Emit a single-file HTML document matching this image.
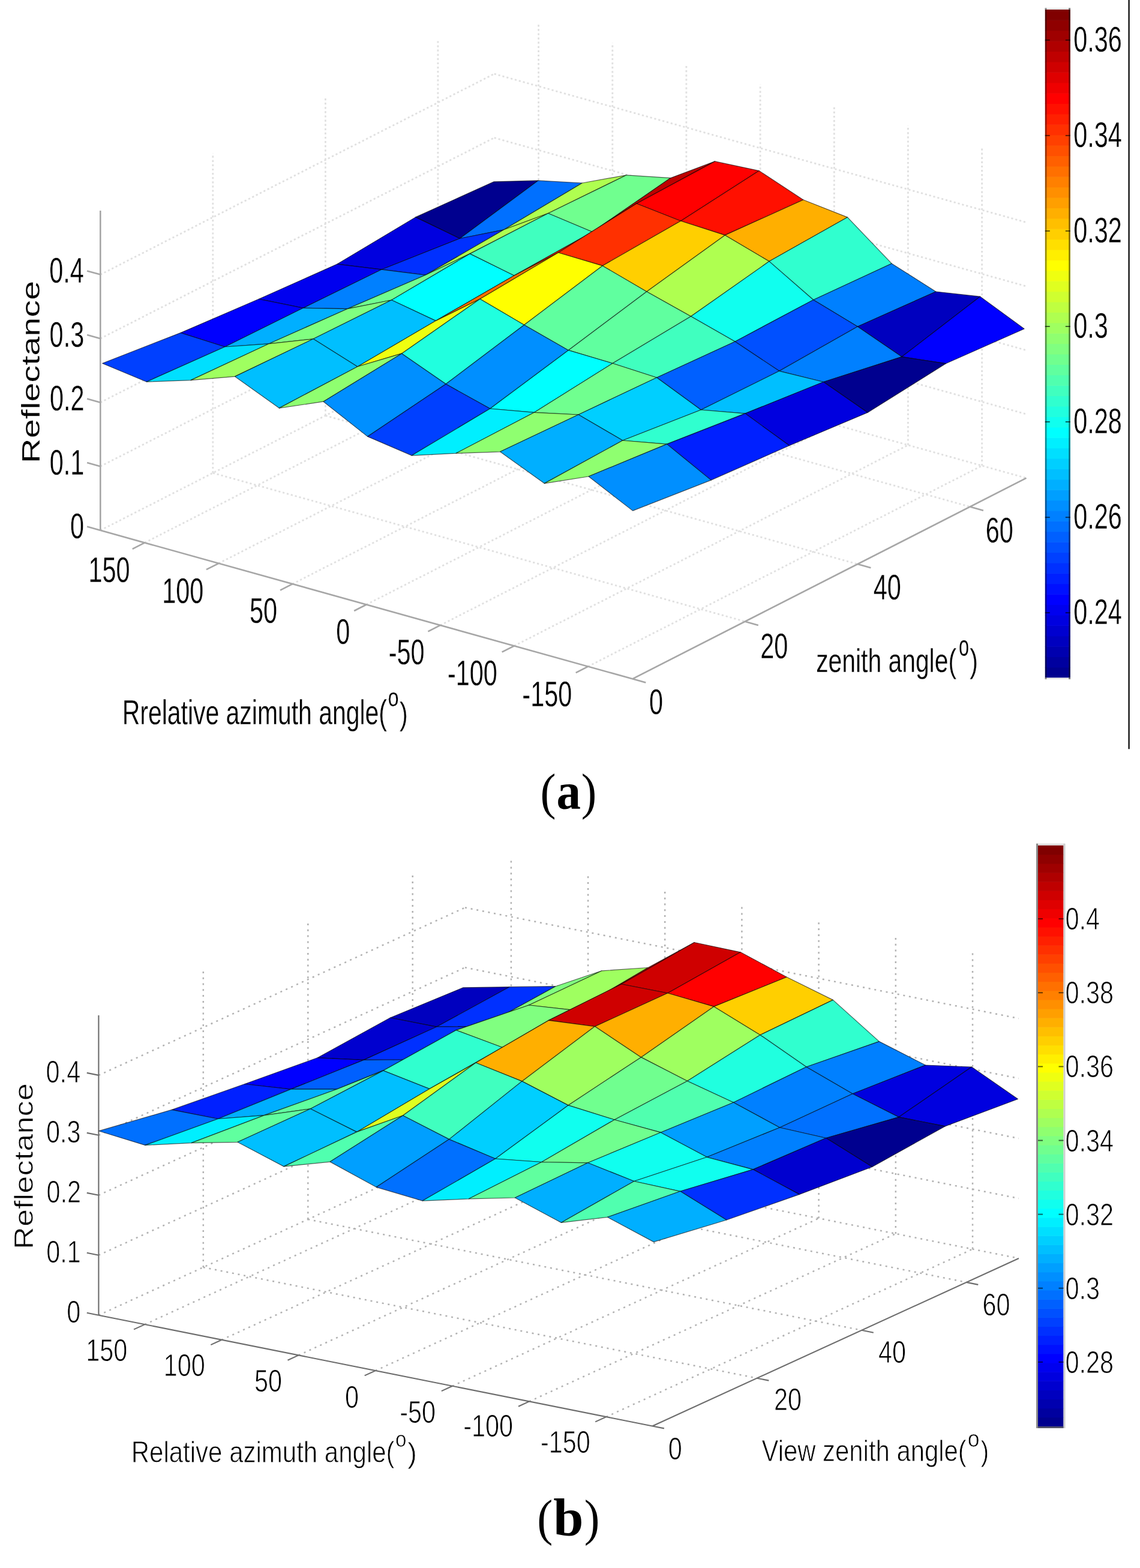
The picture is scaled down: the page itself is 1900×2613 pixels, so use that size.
<!DOCTYPE html>
<html><head><meta charset="utf-8"><title>Reflectance surfaces</title>
<style>html,body{margin:0;padding:0;background:#fff;}svg{display:block;}</style></head>
<body><svg width="1900" height="2613" viewBox="0 0 1900 2613">
<rect width="1900" height="2613" fill="#fff"/>
<g fill="none"><line x1="241.2" y1="904.4" x2="897.6" y2="569.8" stroke="#e0e0e0" stroke-width="2.80" stroke-dasharray="3.2 3.9"/><line x1="364.4" y1="938.8" x2="1020.8" y2="604.2" stroke="#e0e0e0" stroke-width="2.80" stroke-dasharray="3.2 3.9"/><line x1="487.5" y1="973.1" x2="1143.9" y2="638.6" stroke="#e0e0e0" stroke-width="2.80" stroke-dasharray="3.2 3.9"/><line x1="610.7" y1="1007.5" x2="1267.1" y2="673.0" stroke="#e0e0e0" stroke-width="2.80" stroke-dasharray="3.2 3.9"/><line x1="733.9" y1="1041.9" x2="1390.3" y2="707.3" stroke="#e0e0e0" stroke-width="2.80" stroke-dasharray="3.2 3.9"/><line x1="857.0" y1="1076.3" x2="1513.4" y2="741.7" stroke="#e0e0e0" stroke-width="2.80" stroke-dasharray="3.2 3.9"/><line x1="980.2" y1="1110.6" x2="1636.6" y2="776.1" stroke="#e0e0e0" stroke-width="2.80" stroke-dasharray="3.2 3.9"/><line x1="354.8" y1="788.2" x2="1241.7" y2="1035.7" stroke="#e0e0e0" stroke-width="2.80" stroke-dasharray="3.2 3.9"/><line x1="542.4" y1="692.6" x2="1429.2" y2="940.1" stroke="#e0e0e0" stroke-width="2.80" stroke-dasharray="3.2 3.9"/><line x1="729.9" y1="597.0" x2="1616.7" y2="844.5" stroke="#e0e0e0" stroke-width="2.80" stroke-dasharray="3.2 3.9"/><line x1="354.8" y1="788.2" x2="354.8" y2="255.5" stroke="#e0e0e0" stroke-width="2.80" stroke-dasharray="3.2 3.9"/><line x1="542.4" y1="692.6" x2="542.4" y2="159.9" stroke="#e0e0e0" stroke-width="2.80" stroke-dasharray="3.2 3.9"/><line x1="729.9" y1="597.0" x2="729.9" y2="64.4" stroke="#e0e0e0" stroke-width="2.80" stroke-dasharray="3.2 3.9"/><line x1="167.3" y1="777.2" x2="823.7" y2="442.7" stroke="#e0e0e0" stroke-width="2.80" stroke-dasharray="3.2 3.9"/><line x1="167.3" y1="670.7" x2="823.7" y2="336.2" stroke="#e0e0e0" stroke-width="2.80" stroke-dasharray="3.2 3.9"/><line x1="167.3" y1="564.2" x2="823.7" y2="229.6" stroke="#e0e0e0" stroke-width="2.80" stroke-dasharray="3.2 3.9"/><line x1="167.3" y1="457.6" x2="823.7" y2="123.1" stroke="#e0e0e0" stroke-width="2.80" stroke-dasharray="3.2 3.9"/><line x1="897.6" y1="569.8" x2="897.6" y2="37.2" stroke="#e0e0e0" stroke-width="2.80" stroke-dasharray="3.2 3.9"/><line x1="1020.8" y1="604.2" x2="1020.8" y2="71.6" stroke="#e0e0e0" stroke-width="2.80" stroke-dasharray="3.2 3.9"/><line x1="1143.9" y1="638.6" x2="1143.9" y2="105.9" stroke="#e0e0e0" stroke-width="2.80" stroke-dasharray="3.2 3.9"/><line x1="1267.1" y1="673.0" x2="1267.1" y2="140.3" stroke="#e0e0e0" stroke-width="2.80" stroke-dasharray="3.2 3.9"/><line x1="1390.3" y1="707.3" x2="1390.3" y2="174.7" stroke="#e0e0e0" stroke-width="2.80" stroke-dasharray="3.2 3.9"/><line x1="1513.4" y1="741.7" x2="1513.4" y2="209.1" stroke="#e0e0e0" stroke-width="2.80" stroke-dasharray="3.2 3.9"/><line x1="1636.6" y1="776.1" x2="1636.6" y2="243.4" stroke="#e0e0e0" stroke-width="2.80" stroke-dasharray="3.2 3.9"/><line x1="823.7" y1="442.7" x2="1710.5" y2="690.2" stroke="#e0e0e0" stroke-width="2.80" stroke-dasharray="3.2 3.9"/><line x1="823.7" y1="336.2" x2="1710.5" y2="583.7" stroke="#e0e0e0" stroke-width="2.80" stroke-dasharray="3.2 3.9"/><line x1="823.7" y1="229.6" x2="1710.5" y2="477.1" stroke="#e0e0e0" stroke-width="2.80" stroke-dasharray="3.2 3.9"/><line x1="823.7" y1="123.1" x2="1710.5" y2="370.6" stroke="#e0e0e0" stroke-width="2.80" stroke-dasharray="3.2 3.9"/><line x1="167.3" y1="883.8" x2="823.7" y2="549.2" stroke="#e0e0e0" stroke-width="2.80" stroke-dasharray="3.2 3.9"/><line x1="823.7" y1="549.2" x2="1710.5" y2="796.7" stroke="#e0e0e0" stroke-width="2.80" stroke-dasharray="3.2 3.9"/></g>
<g stroke-linecap="butt"><line x1="167.3" y1="883.8" x2="167.3" y2="351.1" stroke="#a6a6a6" stroke-width="2.60"/><line x1="167.3" y1="883.8" x2="1054.1" y2="1131.3" stroke="#a6a6a6" stroke-width="2.60"/><line x1="1054.1" y1="1131.3" x2="1710.5" y2="796.7" stroke="#a6a6a6" stroke-width="2.60"/><line x1="167.3" y1="883.8" x2="145.1" y2="877.6" stroke="#a6a6a6" stroke-width="2.60"/><line x1="167.3" y1="777.2" x2="145.1" y2="771.1" stroke="#a6a6a6" stroke-width="2.60"/><line x1="167.3" y1="670.7" x2="145.1" y2="664.5" stroke="#a6a6a6" stroke-width="2.60"/><line x1="167.3" y1="564.2" x2="145.1" y2="558.0" stroke="#a6a6a6" stroke-width="2.60"/><line x1="167.3" y1="457.6" x2="145.1" y2="451.5" stroke="#a6a6a6" stroke-width="2.60"/><line x1="241.2" y1="904.4" x2="220.7" y2="914.8" stroke="#a6a6a6" stroke-width="2.60"/><line x1="364.4" y1="938.8" x2="343.9" y2="949.2" stroke="#a6a6a6" stroke-width="2.60"/><line x1="487.5" y1="973.1" x2="467.0" y2="983.6" stroke="#a6a6a6" stroke-width="2.60"/><line x1="610.7" y1="1007.5" x2="590.2" y2="1018.0" stroke="#a6a6a6" stroke-width="2.60"/><line x1="733.9" y1="1041.9" x2="713.4" y2="1052.3" stroke="#a6a6a6" stroke-width="2.60"/><line x1="857.0" y1="1076.3" x2="836.6" y2="1086.7" stroke="#a6a6a6" stroke-width="2.60"/><line x1="980.2" y1="1110.6" x2="959.7" y2="1121.1" stroke="#a6a6a6" stroke-width="2.60"/><line x1="1054.1" y1="1131.3" x2="1076.3" y2="1137.5" stroke="#a6a6a6" stroke-width="2.60"/><line x1="1241.7" y1="1035.7" x2="1263.8" y2="1041.9" stroke="#a6a6a6" stroke-width="2.60"/><line x1="1429.2" y1="940.1" x2="1451.4" y2="946.3" stroke="#a6a6a6" stroke-width="2.60"/><line x1="1616.7" y1="844.5" x2="1638.9" y2="850.7" stroke="#a6a6a6" stroke-width="2.60"/></g>
<g stroke="rgba(0,0,0,0.62)" stroke-width="1.20" stroke-linejoin="round"><polygon points="692.6,361.9 766.3,397.5 896.8,300.9 823.1,302.8" fill="#00008f"/><polygon points="766.3,397.5 839.9,382.8 970.4,305.0 896.8,300.9" fill="#0070ff"/><polygon points="839.9,382.8 913.6,355.5 1044.1,291.8 970.4,305.0" fill="#afff50"/><polygon points="913.6,355.5 987.3,386.5 1117.8,296.6 1044.1,291.8" fill="#70ff8f"/><polygon points="562.1,440.1 635.8,449.2 766.3,397.5 692.6,361.9" fill="#0000df"/><polygon points="987.3,386.5 1061.0,339.2 1191.5,268.9 1117.8,296.6" fill="#bf0000"/><polygon points="635.8,449.2 709.4,458.3 839.9,382.8 766.3,397.5" fill="#0030ff"/><polygon points="1061.0,339.2 1134.6,368.3 1265.1,284.6 1191.5,268.9" fill="#ff0000"/><polygon points="709.4,458.3 783.1,422.9 913.6,355.5 839.9,382.8" fill="#afff50"/><polygon points="1134.6,368.3 1208.3,391.9 1338.8,333.0 1265.1,284.6" fill="#ff1000"/><polygon points="783.1,422.9 856.8,459.2 987.3,386.5 913.6,355.5" fill="#40ffbf"/><polygon points="431.6,498.3 505.3,513.3 635.8,449.2 562.1,440.1" fill="#0000ef"/><polygon points="1208.3,391.9 1282.0,435.6 1412.5,362.1 1338.8,333.0" fill="#ffaf00"/><polygon points="856.8,459.2 930.5,421.0 1061.0,339.2 987.3,386.5" fill="#ff2000"/><polygon points="505.3,513.3 578.9,514.7 709.4,458.3 635.8,449.2" fill="#0080ff"/><polygon points="1282.0,435.6 1355.6,499.7 1486.1,439.2 1412.5,362.1" fill="#30ffcf"/><polygon points="930.5,421.0 1004.1,442.9 1134.6,368.3 1061.0,339.2" fill="#ff3000"/><polygon points="578.9,514.7 652.6,500.0 783.1,422.9 709.4,458.3" fill="#70ff8f"/><polygon points="1355.6,499.7 1429.3,544.2 1559.8,486.0 1486.1,439.2" fill="#0080ff"/><polygon points="1004.1,442.9 1077.8,486.0 1208.3,391.9 1134.6,368.3" fill="#ffcf00"/><polygon points="652.6,500.0 726.3,534.6 856.8,459.2 783.1,422.9" fill="#00ffff"/><polygon points="1429.3,544.2 1503.0,594.6 1633.5,494.2 1559.8,486.0" fill="#0000bf"/><polygon points="301.1,554.6 374.8,578.0 505.3,513.3 431.6,498.3" fill="#0000ff"/><polygon points="1077.8,486.0 1151.5,527.3 1282.0,435.6 1208.3,391.9" fill="#afff50"/><polygon points="726.3,534.6 800.0,498.2 930.5,421.0 856.8,459.2" fill="#ff7000"/><polygon points="1503.0,594.6 1576.6,605.8 1707.1,548.0 1633.5,494.2" fill="#0000ff"/><polygon points="374.8,578.0 448.4,572.8 578.9,514.7 505.3,513.3" fill="#00afff"/><polygon points="1151.5,527.3 1225.1,569.2 1355.6,499.7 1282.0,435.6" fill="#10ffef"/><polygon points="800.0,498.2 873.6,541.5 1004.1,442.9 930.5,421.0" fill="#ffff00"/><polygon points="448.4,572.8 522.1,564.8 652.6,500.0 578.9,514.7" fill="#80ff80"/><polygon points="1225.1,569.2 1298.8,618.3 1429.3,544.2 1355.6,499.7" fill="#0050ff"/><polygon points="873.6,541.5 947.3,583.7 1077.8,486.0 1004.1,442.9" fill="#60ff9f"/><polygon points="522.1,564.8 595.8,611.0 726.3,534.6 652.6,500.0" fill="#00bfff"/><polygon points="1298.8,618.3 1372.5,636.5 1503.0,594.6 1429.3,544.2" fill="#0080ff"/><polygon points="170.6,605.5 244.3,636.3 374.8,578.0 301.1,554.6" fill="#0040ff"/><polygon points="947.3,583.7 1021.0,605.5 1151.5,527.3 1077.8,486.0" fill="#60ff9f"/><polygon points="595.8,611.0 669.5,589.2 800.0,498.2 726.3,534.6" fill="#efff10"/><polygon points="1372.5,636.5 1446.1,687.4 1576.6,605.8 1503.0,594.6" fill="#00008f"/><polygon points="244.3,636.3 317.9,633.6 448.4,572.8 374.8,578.0" fill="#00dfff"/><polygon points="1021.0,605.5 1094.6,629.2 1225.1,569.2 1151.5,527.3" fill="#40ffbf"/><polygon points="669.5,589.2 743.1,640.1 873.6,541.5 800.0,498.2" fill="#20ffdf"/><polygon points="317.9,633.6 391.6,627.4 522.1,564.8 448.4,572.8" fill="#9fff60"/><polygon points="1094.6,629.2 1168.3,683.0 1298.8,618.3 1225.1,569.2" fill="#0060ff"/><polygon points="743.1,640.1 816.8,681.0 947.3,583.7 873.6,541.5" fill="#008fff"/><polygon points="391.6,627.4 465.3,680.1 595.8,611.0 522.1,564.8" fill="#00bfff"/><polygon points="1168.3,683.0 1242.0,689.1 1372.5,636.5 1298.8,618.3" fill="#00bfff"/><polygon points="816.8,681.0 890.5,687.3 1021.0,605.5 947.3,583.7" fill="#00ffff"/><polygon points="465.3,680.1 539.0,669.2 669.5,589.2 595.8,611.0" fill="#8fff70"/><polygon points="1242.0,689.1 1315.6,742.5 1446.1,687.4 1372.5,636.5" fill="#0000df"/><polygon points="890.5,687.3 964.1,691.0 1094.6,629.2 1021.0,605.5" fill="#70ff8f"/><polygon points="539.0,669.2 612.6,727.4 743.1,640.1 669.5,589.2" fill="#008fff"/><polygon points="964.1,691.0 1037.8,734.0 1168.3,683.0 1094.6,629.2" fill="#00cfff"/><polygon points="612.6,727.4 686.3,759.1 816.8,681.0 743.1,640.1" fill="#0040ff"/><polygon points="1037.8,734.0 1111.5,740.1 1242.0,689.1 1168.3,683.0" fill="#30ffcf"/><polygon points="686.3,759.1 760.0,755.4 890.5,687.3 816.8,681.0" fill="#00efff"/><polygon points="1111.5,740.1 1185.1,800.1 1315.6,742.5 1242.0,689.1" fill="#0020ff"/><polygon points="760.0,755.4 833.6,752.8 964.1,691.0 890.5,687.3" fill="#8fff70"/><polygon points="833.6,752.8 907.3,805.6 1037.8,734.0 964.1,691.0" fill="#00afff"/><polygon points="907.3,805.6 981.0,794.0 1111.5,740.1 1037.8,734.0" fill="#8fff70"/><polygon points="981.0,794.0 1054.6,851.1 1185.1,800.1 1111.5,740.1" fill="#008fff"/></g>
<g><rect x="1741.8" y="1111.90" width="42.0" height="18.00" fill="#00008f"/><rect x="1741.8" y="1094.51" width="42.0" height="18.00" fill="#00009f"/><rect x="1741.8" y="1077.11" width="42.0" height="18.00" fill="#0000af"/><rect x="1741.8" y="1059.71" width="42.0" height="18.00" fill="#0000bf"/><rect x="1741.8" y="1042.32" width="42.0" height="18.00" fill="#0000cf"/><rect x="1741.8" y="1024.92" width="42.0" height="18.00" fill="#0000df"/><rect x="1741.8" y="1007.52" width="42.0" height="18.00" fill="#0000ef"/><rect x="1741.8" y="990.12" width="42.0" height="18.00" fill="#0000ff"/><rect x="1741.8" y="972.73" width="42.0" height="18.00" fill="#0010ff"/><rect x="1741.8" y="955.33" width="42.0" height="18.00" fill="#0020ff"/><rect x="1741.8" y="937.93" width="42.0" height="18.00" fill="#0030ff"/><rect x="1741.8" y="920.54" width="42.0" height="18.00" fill="#0040ff"/><rect x="1741.8" y="903.14" width="42.0" height="18.00" fill="#0050ff"/><rect x="1741.8" y="885.74" width="42.0" height="18.00" fill="#0060ff"/><rect x="1741.8" y="868.35" width="42.0" height="18.00" fill="#0070ff"/><rect x="1741.8" y="850.95" width="42.0" height="18.00" fill="#0080ff"/><rect x="1741.8" y="833.55" width="42.0" height="18.00" fill="#008fff"/><rect x="1741.8" y="816.16" width="42.0" height="18.00" fill="#009fff"/><rect x="1741.8" y="798.76" width="42.0" height="18.00" fill="#00afff"/><rect x="1741.8" y="781.36" width="42.0" height="18.00" fill="#00bfff"/><rect x="1741.8" y="763.97" width="42.0" height="18.00" fill="#00cfff"/><rect x="1741.8" y="746.57" width="42.0" height="18.00" fill="#00dfff"/><rect x="1741.8" y="729.17" width="42.0" height="18.00" fill="#00efff"/><rect x="1741.8" y="711.77" width="42.0" height="18.00" fill="#00ffff"/><rect x="1741.8" y="694.38" width="42.0" height="18.00" fill="#10ffef"/><rect x="1741.8" y="676.98" width="42.0" height="18.00" fill="#20ffdf"/><rect x="1741.8" y="659.58" width="42.0" height="18.00" fill="#30ffcf"/><rect x="1741.8" y="642.19" width="42.0" height="18.00" fill="#40ffbf"/><rect x="1741.8" y="624.79" width="42.0" height="18.00" fill="#50ffaf"/><rect x="1741.8" y="607.39" width="42.0" height="18.00" fill="#60ff9f"/><rect x="1741.8" y="590.00" width="42.0" height="18.00" fill="#70ff8f"/><rect x="1741.8" y="572.60" width="42.0" height="18.00" fill="#80ff80"/><rect x="1741.8" y="555.20" width="42.0" height="18.00" fill="#8fff70"/><rect x="1741.8" y="537.81" width="42.0" height="18.00" fill="#9fff60"/><rect x="1741.8" y="520.41" width="42.0" height="18.00" fill="#afff50"/><rect x="1741.8" y="503.01" width="42.0" height="18.00" fill="#bfff40"/><rect x="1741.8" y="485.62" width="42.0" height="18.00" fill="#cfff30"/><rect x="1741.8" y="468.22" width="42.0" height="18.00" fill="#dfff20"/><rect x="1741.8" y="450.82" width="42.0" height="18.00" fill="#efff10"/><rect x="1741.8" y="433.43" width="42.0" height="18.00" fill="#ffff00"/><rect x="1741.8" y="416.03" width="42.0" height="18.00" fill="#ffef00"/><rect x="1741.8" y="398.63" width="42.0" height="18.00" fill="#ffdf00"/><rect x="1741.8" y="381.23" width="42.0" height="18.00" fill="#ffcf00"/><rect x="1741.8" y="363.84" width="42.0" height="18.00" fill="#ffbf00"/><rect x="1741.8" y="346.44" width="42.0" height="18.00" fill="#ffaf00"/><rect x="1741.8" y="329.04" width="42.0" height="18.00" fill="#ff9f00"/><rect x="1741.8" y="311.65" width="42.0" height="18.00" fill="#ff8f00"/><rect x="1741.8" y="294.25" width="42.0" height="18.00" fill="#ff8000"/><rect x="1741.8" y="276.85" width="42.0" height="18.00" fill="#ff7000"/><rect x="1741.8" y="259.46" width="42.0" height="18.00" fill="#ff6000"/><rect x="1741.8" y="242.06" width="42.0" height="18.00" fill="#ff5000"/><rect x="1741.8" y="224.66" width="42.0" height="18.00" fill="#ff4000"/><rect x="1741.8" y="207.27" width="42.0" height="18.00" fill="#ff3000"/><rect x="1741.8" y="189.87" width="42.0" height="18.00" fill="#ff2000"/><rect x="1741.8" y="172.47" width="42.0" height="18.00" fill="#ff1000"/><rect x="1741.8" y="155.08" width="42.0" height="18.00" fill="#ff0000"/><rect x="1741.8" y="137.68" width="42.0" height="18.00" fill="#ef0000"/><rect x="1741.8" y="120.28" width="42.0" height="18.00" fill="#df0000"/><rect x="1741.8" y="102.88" width="42.0" height="18.00" fill="#cf0000"/><rect x="1741.8" y="85.49" width="42.0" height="18.00" fill="#bf0000"/><rect x="1741.8" y="68.09" width="42.0" height="18.00" fill="#af0000"/><rect x="1741.8" y="50.69" width="42.0" height="18.00" fill="#9f0000"/><rect x="1741.8" y="33.30" width="42.0" height="18.00" fill="#8f0000"/><rect x="1741.8" y="15.90" width="42.0" height="18.00" fill="#800000"/></g>
<line x1="1740.5" y1="14.6" x2="1785.1" y2="14.6" stroke="#e8e8e8" stroke-width="2.60"/>
<line x1="1740.5" y1="1130.6" x2="1785.1" y2="1130.6" stroke="#e8e8e8" stroke-width="2.60"/>
<line x1="1743.1" y1="13.3" x2="1743.1" y2="1131.9" stroke="rgba(0,0,0,0.42)" stroke-width="2.60"/>
<line x1="1782.5" y1="13.3" x2="1782.5" y2="1131.9" stroke="rgba(0,0,0,0.5)" stroke-width="2.60"/>
<g><line x1="1741.8" y1="1021.1" x2="1749.8" y2="1021.1" stroke="rgba(0,0,0,0.6)" stroke-width="2.00"/><line x1="1775.8" y1="1021.1" x2="1783.8" y2="1021.1" stroke="rgba(0,0,0,0.6)" stroke-width="2.00"/><line x1="1741.8" y1="862.1" x2="1749.8" y2="862.1" stroke="rgba(0,0,0,0.6)" stroke-width="2.00"/><line x1="1775.8" y1="862.1" x2="1783.8" y2="862.1" stroke="rgba(0,0,0,0.6)" stroke-width="2.00"/><line x1="1741.8" y1="703.0" x2="1749.8" y2="703.0" stroke="rgba(0,0,0,0.6)" stroke-width="2.00"/><line x1="1775.8" y1="703.0" x2="1783.8" y2="703.0" stroke="rgba(0,0,0,0.6)" stroke-width="2.00"/><line x1="1741.8" y1="544.0" x2="1749.8" y2="544.0" stroke="rgba(0,0,0,0.6)" stroke-width="2.00"/><line x1="1775.8" y1="544.0" x2="1783.8" y2="544.0" stroke="rgba(0,0,0,0.6)" stroke-width="2.00"/><line x1="1741.8" y1="384.9" x2="1749.8" y2="384.9" stroke="rgba(0,0,0,0.6)" stroke-width="2.00"/><line x1="1775.8" y1="384.9" x2="1783.8" y2="384.9" stroke="rgba(0,0,0,0.6)" stroke-width="2.00"/><line x1="1741.8" y1="225.9" x2="1749.8" y2="225.9" stroke="rgba(0,0,0,0.6)" stroke-width="2.00"/><line x1="1775.8" y1="225.9" x2="1783.8" y2="225.9" stroke="rgba(0,0,0,0.6)" stroke-width="2.00"/><line x1="1741.8" y1="66.8" x2="1749.8" y2="66.8" stroke="rgba(0,0,0,0.6)" stroke-width="2.00"/><line x1="1775.8" y1="66.8" x2="1783.8" y2="66.8" stroke="rgba(0,0,0,0.6)" stroke-width="2.00"/></g>
<g fill="none"><line x1="241.3" y1="2207.1" x2="851.9" y2="1927.6" stroke="#b2b2b2" stroke-width="2.50" stroke-dasharray="3 6.8"/><line x1="369.5" y1="2232.8" x2="980.1" y2="1953.3" stroke="#b2b2b2" stroke-width="2.50" stroke-dasharray="3 6.8"/><line x1="497.7" y1="2258.4" x2="1108.2" y2="1978.9" stroke="#b2b2b2" stroke-width="2.50" stroke-dasharray="3 6.8"/><line x1="625.8" y1="2284.1" x2="1236.4" y2="2004.6" stroke="#b2b2b2" stroke-width="2.50" stroke-dasharray="3 6.8"/><line x1="754.0" y1="2309.8" x2="1364.6" y2="2030.3" stroke="#b2b2b2" stroke-width="2.50" stroke-dasharray="3 6.8"/><line x1="882.2" y1="2335.4" x2="1492.8" y2="2055.9" stroke="#b2b2b2" stroke-width="2.50" stroke-dasharray="3 6.8"/><line x1="1010.4" y1="2361.1" x2="1621.0" y2="2081.6" stroke="#b2b2b2" stroke-width="2.50" stroke-dasharray="3 6.8"/><line x1="338.8" y1="2111.9" x2="1261.8" y2="2296.7" stroke="#b2b2b2" stroke-width="2.50" stroke-dasharray="3 6.8"/><line x1="513.3" y1="2032.0" x2="1436.2" y2="2216.8" stroke="#b2b2b2" stroke-width="2.50" stroke-dasharray="3 6.8"/><line x1="687.7" y1="1952.1" x2="1610.7" y2="2136.9" stroke="#b2b2b2" stroke-width="2.50" stroke-dasharray="3 6.8"/><line x1="338.8" y1="2111.9" x2="338.8" y2="1612.0" stroke="#b2b2b2" stroke-width="2.50" stroke-dasharray="3 6.8"/><line x1="513.3" y1="2032.0" x2="513.3" y2="1532.2" stroke="#b2b2b2" stroke-width="2.50" stroke-dasharray="3 6.8"/><line x1="687.7" y1="1952.1" x2="687.7" y2="1452.3" stroke="#b2b2b2" stroke-width="2.50" stroke-dasharray="3 6.8"/><line x1="164.4" y1="2091.7" x2="775.0" y2="1812.3" stroke="#b2b2b2" stroke-width="2.50" stroke-dasharray="3 6.8"/><line x1="164.4" y1="1991.8" x2="775.0" y2="1712.3" stroke="#b2b2b2" stroke-width="2.50" stroke-dasharray="3 6.8"/><line x1="164.4" y1="1891.8" x2="775.0" y2="1612.3" stroke="#b2b2b2" stroke-width="2.50" stroke-dasharray="3 6.8"/><line x1="164.4" y1="1791.9" x2="775.0" y2="1512.4" stroke="#b2b2b2" stroke-width="2.50" stroke-dasharray="3 6.8"/><line x1="851.9" y1="1927.6" x2="851.9" y2="1427.8" stroke="#b2b2b2" stroke-width="2.50" stroke-dasharray="3 6.8"/><line x1="980.1" y1="1953.3" x2="980.1" y2="1453.5" stroke="#b2b2b2" stroke-width="2.50" stroke-dasharray="3 6.8"/><line x1="1108.2" y1="1978.9" x2="1108.2" y2="1479.1" stroke="#b2b2b2" stroke-width="2.50" stroke-dasharray="3 6.8"/><line x1="1236.4" y1="2004.6" x2="1236.4" y2="1504.8" stroke="#b2b2b2" stroke-width="2.50" stroke-dasharray="3 6.8"/><line x1="1364.6" y1="2030.3" x2="1364.6" y2="1530.5" stroke="#b2b2b2" stroke-width="2.50" stroke-dasharray="3 6.8"/><line x1="1492.8" y1="2055.9" x2="1492.8" y2="1556.1" stroke="#b2b2b2" stroke-width="2.50" stroke-dasharray="3 6.8"/><line x1="1621.0" y1="2081.6" x2="1621.0" y2="1581.8" stroke="#b2b2b2" stroke-width="2.50" stroke-dasharray="3 6.8"/><line x1="775.0" y1="1812.3" x2="1697.9" y2="1997.1" stroke="#b2b2b2" stroke-width="2.50" stroke-dasharray="3 6.8"/><line x1="775.0" y1="1712.3" x2="1697.9" y2="1897.1" stroke="#b2b2b2" stroke-width="2.50" stroke-dasharray="3 6.8"/><line x1="775.0" y1="1612.3" x2="1697.9" y2="1797.1" stroke="#b2b2b2" stroke-width="2.50" stroke-dasharray="3 6.8"/><line x1="775.0" y1="1512.4" x2="1697.9" y2="1697.2" stroke="#b2b2b2" stroke-width="2.50" stroke-dasharray="3 6.8"/><line x1="164.4" y1="2191.7" x2="775.0" y2="1912.2" stroke="#b2b2b2" stroke-width="2.50" stroke-dasharray="3 6.8"/><line x1="775.0" y1="1912.2" x2="1697.9" y2="2097.0" stroke="#b2b2b2" stroke-width="2.50" stroke-dasharray="3 6.8"/></g>
<g stroke-linecap="butt"><line x1="164.4" y1="2191.7" x2="164.4" y2="1691.9" stroke="#6c6c6c" stroke-width="2.10"/><line x1="164.4" y1="2191.7" x2="1087.3" y2="2376.5" stroke="#6c6c6c" stroke-width="2.10"/><line x1="1087.3" y1="2376.5" x2="1697.9" y2="2097.0" stroke="#6c6c6c" stroke-width="2.10"/><line x1="164.4" y1="2191.7" x2="144.8" y2="2187.8" stroke="#6c6c6c" stroke-width="2.10"/><line x1="164.4" y1="2091.7" x2="144.8" y2="2087.8" stroke="#6c6c6c" stroke-width="2.10"/><line x1="164.4" y1="1991.8" x2="144.8" y2="1987.9" stroke="#6c6c6c" stroke-width="2.10"/><line x1="164.4" y1="1891.8" x2="144.8" y2="1887.9" stroke="#6c6c6c" stroke-width="2.10"/><line x1="164.4" y1="1791.9" x2="144.8" y2="1787.9" stroke="#6c6c6c" stroke-width="2.10"/><line x1="241.3" y1="2207.1" x2="223.1" y2="2215.4" stroke="#6c6c6c" stroke-width="2.10"/><line x1="369.5" y1="2232.8" x2="351.3" y2="2241.1" stroke="#6c6c6c" stroke-width="2.10"/><line x1="497.7" y1="2258.4" x2="479.5" y2="2266.8" stroke="#6c6c6c" stroke-width="2.10"/><line x1="625.8" y1="2284.1" x2="607.7" y2="2292.4" stroke="#6c6c6c" stroke-width="2.10"/><line x1="754.0" y1="2309.8" x2="735.8" y2="2318.1" stroke="#6c6c6c" stroke-width="2.10"/><line x1="882.2" y1="2335.4" x2="864.0" y2="2343.8" stroke="#6c6c6c" stroke-width="2.10"/><line x1="1010.4" y1="2361.1" x2="992.2" y2="2369.4" stroke="#6c6c6c" stroke-width="2.10"/><line x1="1087.3" y1="2376.5" x2="1106.9" y2="2380.4" stroke="#6c6c6c" stroke-width="2.10"/><line x1="1261.8" y1="2296.7" x2="1281.4" y2="2300.6" stroke="#6c6c6c" stroke-width="2.10"/><line x1="1436.2" y1="2216.8" x2="1455.8" y2="2220.7" stroke="#6c6c6c" stroke-width="2.10"/><line x1="1610.7" y1="2136.9" x2="1630.3" y2="2140.9" stroke="#6c6c6c" stroke-width="2.10"/></g>
<g stroke="rgba(0,0,0,0.62)" stroke-width="1.20" stroke-linejoin="round"><polygon points="650.5,1696.0 727.5,1711.2 849.0,1644.7 771.9,1645.8" fill="#0000bf"/><polygon points="727.5,1711.2 804.6,1710.5 926.0,1643.7 849.0,1644.7" fill="#0030ff"/><polygon points="804.6,1710.5 881.6,1675.0 1003.0,1617.8 926.0,1643.7" fill="#80ff80"/><polygon points="881.6,1675.0 958.7,1683.7 1080.1,1612.5 1003.0,1617.8" fill="#9fff60"/><polygon points="529.1,1762.8 606.2,1766.4 727.5,1711.2 650.5,1696.0" fill="#0000cf"/><polygon points="958.7,1683.7 1035.8,1640.0 1157.2,1570.5 1080.1,1612.5" fill="#cf0000"/><polygon points="606.2,1766.4 683.2,1766.0 804.6,1710.5 727.5,1711.2" fill="#0030ff"/><polygon points="1035.8,1640.0 1112.8,1655.0 1234.2,1586.8 1157.2,1570.5" fill="#cf0000"/><polygon points="683.2,1766.0 760.2,1716.8 881.6,1675.0 804.6,1710.5" fill="#dfff20"/><polygon points="1112.8,1655.0 1189.8,1677.4 1311.2,1628.2 1234.2,1586.8" fill="#ff0000"/><polygon points="760.2,1716.8 837.3,1745.5 958.7,1683.7 881.6,1675.0" fill="#80ff80"/><polygon points="407.7,1806.5 484.8,1815.1 606.2,1766.4 529.1,1762.8" fill="#0000ff"/><polygon points="1189.8,1677.4 1266.9,1724.7 1388.3,1666.4 1311.2,1628.2" fill="#ffcf00"/><polygon points="837.3,1745.5 914.4,1700.4 1035.8,1640.0 958.7,1683.7" fill="#ef0000"/><polygon points="484.8,1815.1 561.8,1815.0 683.2,1766.0 606.2,1766.4" fill="#0060ff"/><polygon points="1266.9,1724.7 1343.9,1778.0 1465.3,1735.6 1388.3,1666.4" fill="#30ffcf"/><polygon points="914.4,1700.4 991.4,1710.6 1112.8,1655.0 1035.8,1640.0" fill="#cf0000"/><polygon points="561.8,1815.0 638.8,1784.1 760.2,1716.8 683.2,1766.0" fill="#8fff70"/><polygon points="1343.9,1778.0 1421.0,1822.8 1542.4,1775.0 1465.3,1735.6" fill="#0080ff"/><polygon points="991.4,1710.6 1068.5,1761.9 1189.8,1677.4 1112.8,1655.0" fill="#ffaf00"/><polygon points="638.8,1784.1 715.9,1814.6 837.3,1745.5 760.2,1716.8" fill="#30ffcf"/><polygon points="1421.0,1822.8 1498.0,1861.6 1619.4,1778.0 1542.4,1775.0" fill="#0000df"/><polygon points="286.3,1849.4 363.4,1864.5 484.8,1815.1 407.7,1806.5" fill="#0020ff"/><polygon points="1068.5,1761.9 1145.5,1801.5 1266.9,1724.7 1189.8,1677.4" fill="#9fff60"/><polygon points="715.9,1814.6 793.0,1771.0 914.4,1700.4 837.3,1745.5" fill="#ff5000"/><polygon points="1498.0,1861.6 1575.1,1876.9 1696.5,1831.5 1619.4,1778.0" fill="#0000df"/><polygon points="363.4,1864.5 440.4,1858.6 561.8,1815.0 484.8,1815.1" fill="#00afff"/><polygon points="1145.5,1801.5 1222.5,1837.2 1343.9,1778.0 1266.9,1724.7" fill="#20ffdf"/><polygon points="793.0,1771.0 870.0,1801.9 991.4,1710.6 914.4,1700.4" fill="#ffaf00"/><polygon points="440.4,1858.6 517.4,1847.8 638.8,1784.1 561.8,1815.0" fill="#60ff9f"/><polygon points="1222.5,1837.2 1299.6,1879.0 1421.0,1822.8 1343.9,1778.0" fill="#0080ff"/><polygon points="870.0,1801.9 947.0,1841.9 1068.5,1761.9 991.4,1710.6" fill="#9fff60"/><polygon points="517.4,1847.8 594.5,1886.4 715.9,1814.6 638.8,1784.1" fill="#00bfff"/><polygon points="1299.6,1879.0 1376.7,1896.5 1498.0,1861.6 1421.0,1822.8" fill="#0070ff"/><polygon points="164.9,1884.7 241.9,1908.4 363.4,1864.5 286.3,1849.4" fill="#0070ff"/><polygon points="947.0,1841.9 1024.1,1866.0 1145.5,1801.5 1068.5,1761.9" fill="#70ff8f"/><polygon points="594.5,1886.4 671.5,1859.0 793.0,1771.0 715.9,1814.6" fill="#dfff20"/><polygon points="1376.7,1896.5 1453.7,1944.5 1575.1,1876.9 1498.0,1861.6" fill="#00008f"/><polygon points="241.9,1908.4 319.0,1904.6 440.4,1858.6 363.4,1864.5" fill="#00efff"/><polygon points="1024.1,1866.0 1101.1,1887.2 1222.5,1837.2 1145.5,1801.5" fill="#50ffaf"/><polygon points="671.5,1859.0 748.6,1898.6 870.0,1801.9 793.0,1771.0" fill="#40ffbf"/><polygon points="319.0,1904.6 396.0,1903.3 517.4,1847.8 440.4,1858.6" fill="#60ff9f"/><polygon points="1101.1,1887.2 1178.2,1928.3 1299.6,1879.0 1222.5,1837.2" fill="#009fff"/><polygon points="748.6,1898.6 825.6,1931.0 947.0,1841.9 870.0,1801.9" fill="#00cfff"/><polygon points="396.0,1903.3 473.1,1943.9 594.5,1886.4 517.4,1847.8" fill="#00bfff"/><polygon points="1178.2,1928.3 1255.2,1948.9 1376.7,1896.5 1299.6,1879.0" fill="#0080ff"/><polygon points="825.6,1931.0 902.7,1936.5 1024.1,1866.0 947.0,1841.9" fill="#10ffef"/><polygon points="473.1,1943.9 550.1,1936.1 671.5,1859.0 594.5,1886.4" fill="#50ffaf"/><polygon points="1255.2,1948.9 1332.3,1990.4 1453.7,1944.5 1376.7,1896.5" fill="#0000cf"/><polygon points="902.7,1936.5 979.7,1937.8 1101.1,1887.2 1024.1,1866.0" fill="#70ff8f"/><polygon points="550.1,1936.1 627.2,1978.3 748.6,1898.6 671.5,1859.0" fill="#009fff"/><polygon points="979.7,1937.8 1056.8,1968.5 1178.2,1928.3 1101.1,1887.2" fill="#10ffef"/><polygon points="627.2,1978.3 704.2,2001.1 825.6,1931.0 748.6,1898.6" fill="#0070ff"/><polygon points="1056.8,1968.5 1133.8,1985.3 1255.2,1948.9 1178.2,1928.3" fill="#10ffef"/><polygon points="704.2,2001.1 781.3,1997.8 902.7,1936.5 825.6,1931.0" fill="#00efff"/><polygon points="1133.8,1985.3 1210.9,2033.0 1332.3,1990.4 1255.2,1948.9" fill="#0030ff"/><polygon points="781.3,1997.8 858.3,1996.0 979.7,1937.8 902.7,1936.5" fill="#60ff9f"/><polygon points="858.3,1996.0 935.4,2037.4 1056.8,1968.5 979.7,1937.8" fill="#00afff"/><polygon points="935.4,2037.4 1012.4,2028.3 1133.8,1985.3 1056.8,1968.5" fill="#50ffaf"/><polygon points="1012.4,2028.3 1089.5,2069.6 1210.9,2033.0 1133.8,1985.3" fill="#00afff"/></g>
<g><rect x="1730.0" y="2361.77" width="42.5" height="15.73" fill="#00008f"/><rect x="1730.0" y="2346.64" width="42.5" height="15.73" fill="#00009f"/><rect x="1730.0" y="2331.52" width="42.5" height="15.73" fill="#0000af"/><rect x="1730.0" y="2316.39" width="42.5" height="15.73" fill="#0000bf"/><rect x="1730.0" y="2301.26" width="42.5" height="15.73" fill="#0000cf"/><rect x="1730.0" y="2286.13" width="42.5" height="15.73" fill="#0000df"/><rect x="1730.0" y="2271.00" width="42.5" height="15.73" fill="#0000ef"/><rect x="1730.0" y="2255.88" width="42.5" height="15.73" fill="#0000ff"/><rect x="1730.0" y="2240.75" width="42.5" height="15.73" fill="#0010ff"/><rect x="1730.0" y="2225.62" width="42.5" height="15.73" fill="#0020ff"/><rect x="1730.0" y="2210.49" width="42.5" height="15.73" fill="#0030ff"/><rect x="1730.0" y="2195.36" width="42.5" height="15.73" fill="#0040ff"/><rect x="1730.0" y="2180.23" width="42.5" height="15.73" fill="#0050ff"/><rect x="1730.0" y="2165.11" width="42.5" height="15.73" fill="#0060ff"/><rect x="1730.0" y="2149.98" width="42.5" height="15.73" fill="#0070ff"/><rect x="1730.0" y="2134.85" width="42.5" height="15.73" fill="#0080ff"/><rect x="1730.0" y="2119.72" width="42.5" height="15.73" fill="#008fff"/><rect x="1730.0" y="2104.59" width="42.5" height="15.73" fill="#009fff"/><rect x="1730.0" y="2089.47" width="42.5" height="15.73" fill="#00afff"/><rect x="1730.0" y="2074.34" width="42.5" height="15.73" fill="#00bfff"/><rect x="1730.0" y="2059.21" width="42.5" height="15.73" fill="#00cfff"/><rect x="1730.0" y="2044.08" width="42.5" height="15.73" fill="#00dfff"/><rect x="1730.0" y="2028.95" width="42.5" height="15.73" fill="#00efff"/><rect x="1730.0" y="2013.83" width="42.5" height="15.73" fill="#00ffff"/><rect x="1730.0" y="1998.70" width="42.5" height="15.73" fill="#10ffef"/><rect x="1730.0" y="1983.57" width="42.5" height="15.73" fill="#20ffdf"/><rect x="1730.0" y="1968.44" width="42.5" height="15.73" fill="#30ffcf"/><rect x="1730.0" y="1953.31" width="42.5" height="15.73" fill="#40ffbf"/><rect x="1730.0" y="1938.18" width="42.5" height="15.73" fill="#50ffaf"/><rect x="1730.0" y="1923.06" width="42.5" height="15.73" fill="#60ff9f"/><rect x="1730.0" y="1907.93" width="42.5" height="15.73" fill="#70ff8f"/><rect x="1730.0" y="1892.80" width="42.5" height="15.73" fill="#80ff80"/><rect x="1730.0" y="1877.67" width="42.5" height="15.73" fill="#8fff70"/><rect x="1730.0" y="1862.54" width="42.5" height="15.73" fill="#9fff60"/><rect x="1730.0" y="1847.42" width="42.5" height="15.73" fill="#afff50"/><rect x="1730.0" y="1832.29" width="42.5" height="15.73" fill="#bfff40"/><rect x="1730.0" y="1817.16" width="42.5" height="15.73" fill="#cfff30"/><rect x="1730.0" y="1802.03" width="42.5" height="15.73" fill="#dfff20"/><rect x="1730.0" y="1786.90" width="42.5" height="15.73" fill="#efff10"/><rect x="1730.0" y="1771.78" width="42.5" height="15.73" fill="#ffff00"/><rect x="1730.0" y="1756.65" width="42.5" height="15.73" fill="#ffef00"/><rect x="1730.0" y="1741.52" width="42.5" height="15.73" fill="#ffdf00"/><rect x="1730.0" y="1726.39" width="42.5" height="15.73" fill="#ffcf00"/><rect x="1730.0" y="1711.26" width="42.5" height="15.73" fill="#ffbf00"/><rect x="1730.0" y="1696.13" width="42.5" height="15.73" fill="#ffaf00"/><rect x="1730.0" y="1681.01" width="42.5" height="15.73" fill="#ff9f00"/><rect x="1730.0" y="1665.88" width="42.5" height="15.73" fill="#ff8f00"/><rect x="1730.0" y="1650.75" width="42.5" height="15.73" fill="#ff8000"/><rect x="1730.0" y="1635.62" width="42.5" height="15.73" fill="#ff7000"/><rect x="1730.0" y="1620.49" width="42.5" height="15.73" fill="#ff6000"/><rect x="1730.0" y="1605.37" width="42.5" height="15.73" fill="#ff5000"/><rect x="1730.0" y="1590.24" width="42.5" height="15.73" fill="#ff4000"/><rect x="1730.0" y="1575.11" width="42.5" height="15.73" fill="#ff3000"/><rect x="1730.0" y="1559.98" width="42.5" height="15.73" fill="#ff2000"/><rect x="1730.0" y="1544.85" width="42.5" height="15.73" fill="#ff1000"/><rect x="1730.0" y="1529.72" width="42.5" height="15.73" fill="#ff0000"/><rect x="1730.0" y="1514.60" width="42.5" height="15.73" fill="#ef0000"/><rect x="1730.0" y="1499.47" width="42.5" height="15.73" fill="#df0000"/><rect x="1730.0" y="1484.34" width="42.5" height="15.73" fill="#cf0000"/><rect x="1730.0" y="1469.21" width="42.5" height="15.73" fill="#bf0000"/><rect x="1730.0" y="1454.08" width="42.5" height="15.73" fill="#af0000"/><rect x="1730.0" y="1438.96" width="42.5" height="15.73" fill="#9f0000"/><rect x="1730.0" y="1423.83" width="42.5" height="15.73" fill="#8f0000"/><rect x="1730.0" y="1408.70" width="42.5" height="15.73" fill="#800000"/></g>
<line x1="1728.5" y1="1407.2" x2="1774.0" y2="1407.2" stroke="#dddddd" stroke-width="3.00"/>
<line x1="1728.5" y1="2378.4" x2="1774.0" y2="2378.4" stroke="#50506a" stroke-width="3.00"/>
<line x1="1728.5" y1="1405.7" x2="1728.5" y2="2379.9" stroke="#8a8a8a" stroke-width="3.00"/>
<line x1="1774.0" y1="1405.7" x2="1774.0" y2="2379.9" stroke="#cfcfcf" stroke-width="3.00"/>
<g><line x1="1730.0" y1="2269.8" x2="1738.0" y2="2269.8" stroke="rgba(0,0,0,0.6)" stroke-width="2.00"/><line x1="1764.5" y1="2269.8" x2="1772.5" y2="2269.8" stroke="rgba(0,0,0,0.6)" stroke-width="2.00"/><line x1="1730.0" y1="2146.7" x2="1738.0" y2="2146.7" stroke="rgba(0,0,0,0.6)" stroke-width="2.00"/><line x1="1764.5" y1="2146.7" x2="1772.5" y2="2146.7" stroke="rgba(0,0,0,0.6)" stroke-width="2.00"/><line x1="1730.0" y1="2023.6" x2="1738.0" y2="2023.6" stroke="rgba(0,0,0,0.6)" stroke-width="2.00"/><line x1="1764.5" y1="2023.6" x2="1772.5" y2="2023.6" stroke="rgba(0,0,0,0.6)" stroke-width="2.00"/><line x1="1730.0" y1="1900.5" x2="1738.0" y2="1900.5" stroke="rgba(0,0,0,0.6)" stroke-width="2.00"/><line x1="1764.5" y1="1900.5" x2="1772.5" y2="1900.5" stroke="rgba(0,0,0,0.6)" stroke-width="2.00"/><line x1="1730.0" y1="1777.4" x2="1738.0" y2="1777.4" stroke="rgba(0,0,0,0.6)" stroke-width="2.00"/><line x1="1764.5" y1="1777.4" x2="1772.5" y2="1777.4" stroke="rgba(0,0,0,0.6)" stroke-width="2.00"/><line x1="1730.0" y1="1654.3" x2="1738.0" y2="1654.3" stroke="rgba(0,0,0,0.6)" stroke-width="2.00"/><line x1="1764.5" y1="1654.3" x2="1772.5" y2="1654.3" stroke="rgba(0,0,0,0.6)" stroke-width="2.00"/><line x1="1730.0" y1="1531.2" x2="1738.0" y2="1531.2" stroke="rgba(0,0,0,0.6)" stroke-width="2.00"/><line x1="1764.5" y1="1531.2" x2="1772.5" y2="1531.2" stroke="rgba(0,0,0,0.6)" stroke-width="2.00"/></g>
<g fill="#111" stroke="#fff" stroke-width="1"><text font-family="Liberation Sans" font-weight="normal" font-size="200" fill="#000" transform="matrix(0.20700 0 0 0.29500 116.97 897.12)">0</text><text font-family="Liberation Sans" font-weight="normal" font-size="200" fill="#000" transform="matrix(0.20700 0 0 0.29500 82.82 790.59)">0.1</text><text font-family="Liberation Sans" font-weight="normal" font-size="200" fill="#000" transform="matrix(0.20700 0 0 0.29500 83.02 684.06)">0.2</text><text font-family="Liberation Sans" font-weight="normal" font-size="200" fill="#000" transform="matrix(0.20700 0 0 0.29500 82.61 577.53)">0.3</text><text font-family="Liberation Sans" font-weight="normal" font-size="200" fill="#000" transform="matrix(0.20700 0 0 0.29500 82.20 471.00)">0.4</text><text font-family="Liberation Sans" font-weight="normal" font-size="200" fill="#000" transform="matrix(0.20700 0 0 0.29500 147.42 970.10)">150</text><text font-family="Liberation Sans" font-weight="normal" font-size="200" fill="#000" transform="matrix(0.20700 0 0 0.29500 270.22 1005.00)">100</text><text font-family="Liberation Sans" font-weight="normal" font-size="200" fill="#000" transform="matrix(0.20700 0 0 0.29500 416.00 1038.30)">50</text><text font-family="Liberation Sans" font-weight="normal" font-size="200" fill="#000" transform="matrix(0.20700 0 0 0.29500 560.27 1073.20)">0</text><text font-family="Liberation Sans" font-weight="normal" font-size="200" fill="#000" transform="matrix(0.20700 0 0 0.29500 647.73 1107.10)">-50</text><text font-family="Liberation Sans" font-weight="normal" font-size="200" fill="#000" transform="matrix(0.20700 0 0 0.29500 746.05 1141.90)">-100</text><text font-family="Liberation Sans" font-weight="normal" font-size="200" fill="#000" transform="matrix(0.20700 0 0 0.29500 870.35 1176.80)">-150</text><text font-family="Liberation Sans" font-weight="normal" font-size="200" fill="#000" transform="matrix(0.20700 0 0 0.29500 1082.04 1189.70)">0</text><text font-family="Liberation Sans" font-weight="normal" font-size="200" fill="#000" transform="matrix(0.20700 0 0 0.29500 1267.13 1096.90)">20</text><text font-family="Liberation Sans" font-weight="normal" font-size="200" fill="#000" transform="matrix(0.20700 0 0 0.29500 1455.77 998.60)">40</text><text font-family="Liberation Sans" font-weight="normal" font-size="200" fill="#000" transform="matrix(0.20700 0 0 0.29500 1642.73 904.30)">60</text><text font-family="Liberation Sans" font-weight="normal" font-size="200" fill="#000" transform="matrix(0 -0.28778 0.21361 0 66.37 771.90)">Reflectance</text><text font-family="Liberation Sans" font-weight="normal" font-size="200" fill="#000" transform="matrix(0.20463 0 0 0.28930 203.73 1207.45)">Rrelative azimuth angle(</text><text font-family="Liberation Sans" font-weight="normal" font-size="200" fill="#000" transform="matrix(0.16211 0 0 0.21091 646.50 1177.38)">o</text><text font-family="Liberation Sans" font-weight="normal" font-size="200" fill="#000" transform="matrix(0.20566 0 0 0.27273 666.09 1208.15)">)</text><text font-family="Liberation Sans" font-weight="normal" font-size="200" fill="#000" transform="matrix(0.20423 0 0 0.27754 1360.17 1120.24)">zenith angle(</text><text font-family="Liberation Sans" font-weight="normal" font-size="200" fill="#000" transform="matrix(0.15368 0 0 0.24000 1597.97 1093.22)">o</text><text font-family="Liberation Sans" font-weight="normal" font-size="200" fill="#000" transform="matrix(0.20566 0 0 0.27754 1616.29 1120.24)">)</text><text font-family="Liberation Sans" font-weight="normal" font-size="200" fill="#000" transform="matrix(0.20700 0 0 0.29500 1789.14 1040.20)">0.24</text><text font-family="Liberation Sans" font-weight="normal" font-size="200" fill="#000" transform="matrix(0.20700 0 0 0.29500 1789.14 881.14)">0.26</text><text font-family="Liberation Sans" font-weight="normal" font-size="200" fill="#000" transform="matrix(0.20700 0 0 0.29500 1789.14 722.08)">0.28</text><text font-family="Liberation Sans" font-weight="normal" font-size="200" fill="#000" transform="matrix(0.20700 0 0 0.29500 1789.14 563.02)">0.3</text><text font-family="Liberation Sans" font-weight="normal" font-size="200" fill="#000" transform="matrix(0.20700 0 0 0.29500 1789.14 403.97)">0.32</text><text font-family="Liberation Sans" font-weight="normal" font-size="200" fill="#000" transform="matrix(0.20700 0 0 0.29500 1789.14 244.91)">0.34</text><text font-family="Liberation Sans" font-weight="normal" font-size="200" fill="#000" transform="matrix(0.20700 0 0 0.29500 1789.14 85.85)">0.36</text></g>
<g fill="#1a1a1a" stroke="#fff" stroke-width="3.5"><text font-family="Liberation Sans" font-weight="normal" font-size="200" fill="#000" transform="matrix(0.20700 0 0 0.26200 111.37 2203.79)">0</text><text font-family="Liberation Sans" font-weight="normal" font-size="200" fill="#000" transform="matrix(0.20700 0 0 0.26200 77.22 2103.83)">0.1</text><text font-family="Liberation Sans" font-weight="normal" font-size="200" fill="#000" transform="matrix(0.20700 0 0 0.26200 77.42 2003.86)">0.2</text><text font-family="Liberation Sans" font-weight="normal" font-size="200" fill="#000" transform="matrix(0.20700 0 0 0.26200 77.01 1903.90)">0.3</text><text font-family="Liberation Sans" font-weight="normal" font-size="200" fill="#000" transform="matrix(0.20700 0 0 0.26200 76.60 1803.94)">0.4</text><text font-family="Liberation Sans" font-weight="normal" font-size="200" fill="#000" transform="matrix(0.20700 0 0 0.26200 143.32 2267.58)">150</text><text font-family="Liberation Sans" font-weight="normal" font-size="200" fill="#000" transform="matrix(0.20700 0 0 0.26200 272.82 2293.08)">100</text><text font-family="Liberation Sans" font-weight="normal" font-size="200" fill="#000" transform="matrix(0.20700 0 0 0.26200 423.89 2318.58)">50</text><text font-family="Liberation Sans" font-weight="normal" font-size="200" fill="#000" transform="matrix(0.20700 0 0 0.26200 574.97 2345.88)">0</text><text font-family="Liberation Sans" font-weight="normal" font-size="200" fill="#000" transform="matrix(0.20700 0 0 0.26200 666.23 2371.18)">-50</text><text font-family="Liberation Sans" font-weight="normal" font-size="200" fill="#000" transform="matrix(0.20700 0 0 0.26200 772.15 2393.68)">-100</text><text font-family="Liberation Sans" font-weight="normal" font-size="200" fill="#000" transform="matrix(0.20700 0 0 0.26200 900.95 2420.98)">-150</text><text font-family="Liberation Sans" font-weight="normal" font-size="200" fill="#000" transform="matrix(0.20700 0 0 0.26200 1113.84 2432.28)">0</text><text font-family="Liberation Sans" font-weight="normal" font-size="200" fill="#000" transform="matrix(0.20700 0 0 0.26200 1289.93 2350.48)">20</text><text font-family="Liberation Sans" font-weight="normal" font-size="200" fill="#000" transform="matrix(0.20700 0 0 0.26200 1463.97 2271.08)">40</text><text font-family="Liberation Sans" font-weight="normal" font-size="200" fill="#000" transform="matrix(0.20700 0 0 0.26200 1637.43 2192.18)">60</text><text font-family="Liberation Sans" font-weight="normal" font-size="200" fill="#000" transform="matrix(0 -0.26237 0.22313 0 55.35 2082.00)">Reflectance</text><text font-family="Liberation Sans" font-weight="normal" font-size="200" fill="#000" transform="matrix(0.21004 0 0 0.25294 218.74 2437.18)">Relative azimuth angle(</text><text font-family="Liberation Sans" font-weight="normal" font-size="200" fill="#000" transform="matrix(0.16632 0 0 0.18636 659.07 2411.13)">o</text><text font-family="Liberation Sans" font-weight="normal" font-size="200" fill="#000" transform="matrix(0.23962 0 0 0.24492 679.06 2437.51)">)</text><text font-family="Liberation Sans" font-weight="normal" font-size="200" fill="#000" transform="matrix(0.20934 0 0 0.25294 1269.49 2434.88)">View zenith angle(</text><text font-family="Liberation Sans" font-weight="normal" font-size="200" fill="#000" transform="matrix(0.17789 0 0 0.19818 1612.78 2411.10)">o</text><text font-family="Liberation Sans" font-weight="normal" font-size="200" fill="#000" transform="matrix(0.20566 0 0 0.24011 1634.59 2435.42)">)</text><text font-family="Liberation Sans" font-weight="normal" font-size="200" fill="#000" transform="matrix(0.20700 0 0 0.26200 1775.54 2287.88)">0.28</text><text font-family="Liberation Sans" font-weight="normal" font-size="200" fill="#000" transform="matrix(0.20700 0 0 0.26200 1775.54 2164.78)">0.3</text><text font-family="Liberation Sans" font-weight="normal" font-size="200" fill="#000" transform="matrix(0.20700 0 0 0.26200 1775.54 2041.67)">0.32</text><text font-family="Liberation Sans" font-weight="normal" font-size="200" fill="#000" transform="matrix(0.20700 0 0 0.26200 1775.54 1918.57)">0.34</text><text font-family="Liberation Sans" font-weight="normal" font-size="200" fill="#000" transform="matrix(0.20700 0 0 0.26200 1775.54 1795.47)">0.36</text><text font-family="Liberation Sans" font-weight="normal" font-size="200" fill="#000" transform="matrix(0.20700 0 0 0.26200 1775.54 1672.37)">0.38</text><text font-family="Liberation Sans" font-weight="normal" font-size="200" fill="#000" transform="matrix(0.20700 0 0 0.26200 1775.54 1549.26)">0.4</text></g>
<g fill="#000"><text font-family="Liberation Serif" font-weight="normal" font-size="200" fill="#000" transform="matrix(0.39020 0 0 0.42637 900.59 1348.17)">(</text><text font-family="Liberation Serif" font-weight="bold" font-size="200" fill="#000" transform="matrix(0.40440 0 0 0.43021 927.47 1348.24)">a</text><text font-family="Liberation Serif" font-weight="normal" font-size="200" fill="#000" transform="matrix(0.38269 0 0 0.42637 968.80 1348.17)">)</text><text font-family="Liberation Serif" font-weight="normal" font-size="200" fill="#000" transform="matrix(0.39020 0 0 0.42637 895.29 2558.17)">(</text><text font-family="Liberation Serif" font-weight="bold" font-size="200" fill="#000" transform="matrix(0.45149 0 0 0.44397 922.20 2558.71)">b</text><text font-family="Liberation Serif" font-weight="normal" font-size="200" fill="#000" transform="matrix(0.38462 0 0 0.42637 973.69 2558.17)">)</text></g>
<line x1="1881.6" y1="0" x2="1881.6" y2="1248.3" stroke="#000" stroke-width="2.2"/>
</svg></body></html>
